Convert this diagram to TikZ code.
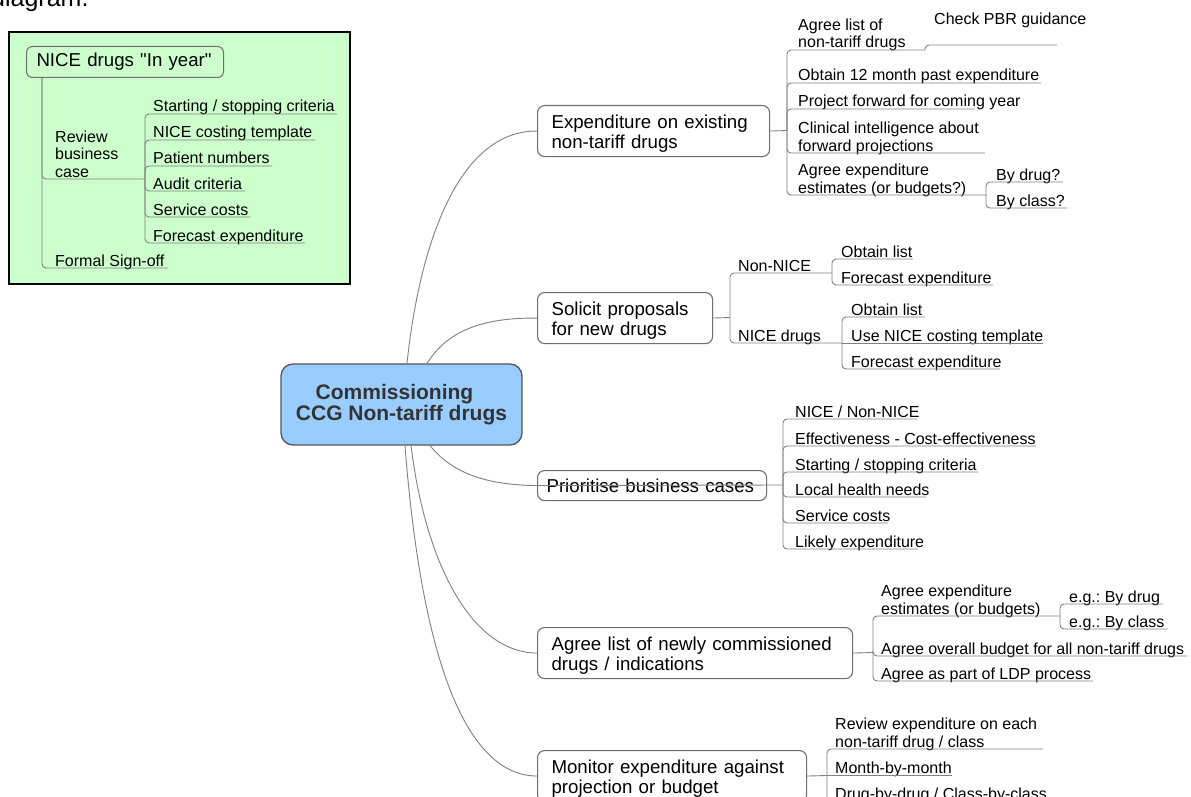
\documentclass[tikz,border=0pt]{standalone}
\usepackage{fontspec}
\setmainfont{Liberation Sans}[Ligatures=TeXOff]
\frenchspacing
\definecolor{connc}{HTML}{808080}
\definecolor{boxline}{HTML}{6E6E6E}
\definecolor{cline}{HTML}{555555}
\definecolor{cfill}{HTML}{99CCFF}
\definecolor{ctext}{HTML}{333333}
\definecolor{gfill}{HTML}{CCFFCC}
\newcommand\fsm{\fontsize{16}{17.2}\selectfont}
\newcommand\fbg{\fontsize{18.67}{20.5}\selectfont}
\newcommand\fct{\fontsize{21}{20.5}\selectfont\bfseries}
\newcommand\ml[1]{\begin{tabular}[b]{@{}l@{}}#1\end{tabular}}
\newcommand\sh{\rule{0pt}{18.5pt}}
\tikzset{
  lk/.style={draw=connc, line width=0.9pt},
  ul/.style={draw=connc, line width=0.9pt, rounded corners=4pt},
  lbl/.style={anchor=base west, inner sep=0pt, font=\fsm, yshift=-2pt},
  mainbox/.style={draw=boxline, line width=1.1pt, rounded corners=7pt, anchor=north west,
    inner xsep=14pt, inner ysep=2pt, align=left, font=\fbg},
  panel/.style={draw=black, line width=2pt, fill=gfill}
}
\begin{document}
\begin{tikzpicture}[x=1pt,y=-1pt]
\useasboundingbox (0,0) rectangle (1191,797);

\node[anchor=base west, inner sep=0pt, font=\fontsize{25}{27}\selectfont] (cap) at (-9,6.5) {diagram.};

% ---------- green panel ----------
\draw[panel] (9,32) rectangle (350,284);
\node[draw=boxline, line width=1pt, rounded corners=6pt, anchor=north west, minimum width=197pt,
  minimum height=31pt, text width=177pt, inner xsep=10pt, font=\fbg, align=left] (g) at (26,46) {NICE drugs "In year"};
\coordinate (g0) at ([xshift=16pt]g.south west);

\node[lbl] (rv) at (55,175) {\ml{Review\\business\\case}};
\coordinate (rv-e) at (145,179);
\node[lbl] (fs) at (55,264) {Formal Sign-off};
\coordinate (fs-e) at (168,268);
\draw[ul] (g0) |- (rv-e);
\draw[ul] (g0) |- (fs-e);

\node[lbl] (s1) at (153,110) {Starting / stopping criteria}; \coordinate (s1-e) at (337,114);
\node[lbl] (s2) at (153,136) {NICE costing template};        \coordinate (s2-e) at (315,140);
\node[lbl] (s3) at (153,162) {Patient numbers};              \coordinate (s3-e) at (272,166);
\node[lbl] (s4) at (153,187) {Audit criteria};               \coordinate (s4-e) at (245,191);
\node[lbl] (s5) at (153,213) {Service costs};                \coordinate (s5-e) at (250,217);
\node[lbl] (s6) at (153,239) {Forecast expenditure};         \coordinate (s6-e) at (305,243);
\foreach \k in {s1,s2,s3,s4,s5,s6} \draw[ul] (rv-e) |- (\k-e);

% ---------- central node ----------
\node[draw=cline, fill=cfill, line width=1.3pt, rounded corners=12pt, minimum width=241pt,
  minimum height=81pt, font=\fct, text=ctext, align=center] (c) at (401.5,404.5)
  {Commissioning\hbox to 14pt{}\\CCG Non-tariff drugs};

% ---------- main boxes ----------
\node[mainbox, text width=204pt, minimum height=51pt] (b1) at (537,105) {\sh Expenditure on existing\\non-tariff drugs};
\node[mainbox, text width=147pt, minimum height=51pt] (b2) at (537,292) {\sh Solicit proposals\\for new drugs};
\node[mainbox, inner xsep=9pt, text width=211pt, minimum height=30pt] (b3) at (537,470) {Prioritise business cases};
\node[mainbox, text width=287pt, minimum height=51pt] (b4) at (537,627) {\sh Agree list of newly commissioned\\drugs / indications};
\node[mainbox, text width=241pt, minimum height=51pt] (b5) at (537,750) {\sh Monitor expenditure against\\projection or budget};

\draw[lk] ([xshift=5.5pt]c.north) .. controls (420,240) and (460,130.5) .. (b1.west);
\draw[lk] ([xshift=25.5pt]c.north) .. controls (445,335) and (475,317.5) .. (b2.west);
\draw[lk] ([xshift=28.5pt]c.south) .. controls (450,470) and (480,485) .. (b3.west);
\draw[lk] ([xshift=9.5pt]c.south) .. controls (425,560) and (470,652.5) .. (b4.west);
\draw[lk] ([xshift=3.5pt]c.south) .. controls (420,640) and (460,775.5) .. (b5.west);

% ---------- branch 1 ----------
\coordinate (j1) at (787,130.5);
\draw[lk] (b1.east) -- (j1);
\node[lbl] (e1a) at (798,46) {\ml{Agree list of\\non-tariff drugs}}; \coordinate (e1a-e) at (925,50);
\node[lbl] (pbr) at (934,23) {Check PBR guidance}; \coordinate (pbr-e) at (1057,45);
\node[lbl] (e1b) at (798,79) {Obtain 12 month past expenditure}; \coordinate (e1b-e) at (1041,83);
\node[lbl] (e1c) at (798,105) {Project forward for coming year}; \coordinate (e1c-e) at (975,109);
\node[lbl] (e1d) at (798,149) {\ml{Clinical intelligence about\\forward projections}}; \coordinate (e1d-e) at (985,153);
\node[lbl] (e1e) at (798,191) {\ml{Agree expenditure\\estimates (or budgets?)}}; \coordinate (e1e-e) at (986,195);
\node[lbl] (bd) at (996,178) {By drug?}; \coordinate (bd-e) at (1063,182);
\node[lbl] (bc) at (996,204) {By class?}; \coordinate (bc-e) at (1067,208);
\foreach \k in {e1a,e1b,e1c,e1d,e1e} \draw[ul] (j1) |- (\k-e);
\draw[ul] (e1a-e) |- (pbr-e);
\draw[ul] (e1e-e) |- (bd-e);
\draw[ul] (e1e-e) |- (bc-e);

% ---------- branch 2 ----------
\coordinate (j2) at (730,317.5);
\draw[lk] (b2.east) -- (j2);
\node[lbl] (nn) at (738,269) {Non-NICE}; \coordinate (nn-e) at (832,273);
\node[lbl] (nd) at (738,339) {NICE drugs}; \coordinate (nd-e) at (842,343);
\draw[ul] (j2) |- (nn-e);
\draw[ul] (j2) |- (nd-e);
\node[lbl] (o1) at (841,255) {Obtain list}; \coordinate (o1-e) at (913,259);
\node[lbl] (f1) at (841,281) {Forecast expenditure}; \coordinate (f1-e) at (993,285);
\draw[ul] (nn-e) |- (o1-e);
\draw[ul] (nn-e) |- (f1-e);
\node[lbl] (o2) at (851,313) {Obtain list}; \coordinate (o2-e) at (925,317);
\node[lbl] (u2) at (851,339) {Use NICE costing template}; \coordinate (u2-e) at (1043,343);
\node[lbl] (f2) at (851,365) {Forecast expenditure}; \coordinate (f2-e) at (1000,369);
\draw[ul] (nd-e) |- (o2-e);
\draw[ul] (nd-e) -- (u2-e);
\draw[ul] (nd-e) |- (f2-e);

% ---------- branch 3 ----------
\coordinate (j3) at (783,485);
\draw[lk] (b3.west) -- (j3);
\node[lbl] (p1) at (795,415) {NICE / Non-NICE}; \coordinate (p1-e) at (917,419);
\node[lbl] (p2) at (795,442) {Effectiveness - Cost-effectiveness}; \coordinate (p2-e) at (1036,446);
\node[lbl] (p3) at (795,468) {Starting / stopping criteria}; \coordinate (p3-e) at (978,472);
\node[lbl] (p4) at (795,493) {Local health needs}; \coordinate (p4-e) at (926,497);
\node[lbl] (p5) at (795,519) {Service costs}; \coordinate (p5-e) at (888,523);
\node[lbl] (p6) at (795,545) {Likely expenditure}; \coordinate (p6-e) at (918,549);
\foreach \k in {p1,p2,p3,p4,p5,p6} \draw[ul] (j3) |- (\k-e);

% ---------- branch 4 ----------
\coordinate (j4) at (873,652.5);
\draw[lk] (b4.east) -- (j4);
\node[lbl] (a1) at (881,612) {\ml{Agree expenditure\\estimates (or budgets)}}; \coordinate (a1-e) at (1060,616);
\node[lbl] (eg1) at (1069,600) {e.g.: By drug}; \coordinate (eg1-e) at (1163,604);
\node[lbl] (eg2) at (1069,625) {e.g.: By class}; \coordinate (eg2-e) at (1168,629);
\node[lbl] (a2) at (881,652) {Agree overall budget for all non-tariff drugs}; \coordinate (a2-e) at (1187,656);
\node[lbl] (a3) at (881,677) {Agree as part of LDP process}; \coordinate (a3-e) at (1093,681);
\foreach \k in {a1,a2,a3} \draw[ul] (j4) |- (\k-e);
\draw[ul] (a1-e) |- (eg1-e);
\draw[ul] (a1-e) |- (eg2-e);

% ---------- branch 5 ----------
\coordinate (j5) at (827,775.5);
\draw[lk] (b5.east) -- (j5);
\node[lbl] (m1) at (835,745) {\ml{Review expenditure on each\\non-tariff drug / class}}; \coordinate (m1-e) at (1043,749);
\node[lbl] (m2) at (835,771) {Month-by-month}; \coordinate (m2-e) at (952,775.5);
\node[lbl] (m3) at (835,797) {Drug-by-drug / Class-by-class}; \coordinate (m3-e) at (1047,801);
\draw[ul] (j5) |- (m1-e);
\draw[ul] (j5) -- (m2-e);
\draw[ul] (j5) |- (m3-e);
\end{tikzpicture}
\end{document}
